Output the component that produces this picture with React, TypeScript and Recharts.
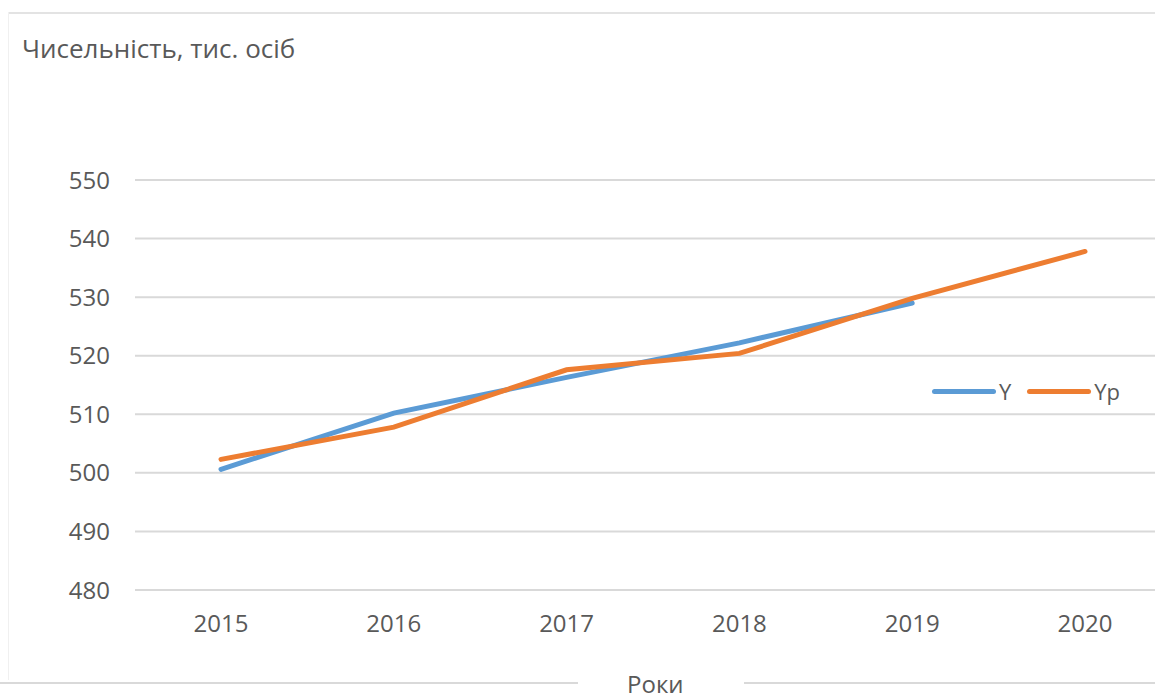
import { LineChart, Line, XAxis, YAxis, CartesianGrid } from 'recharts'

const years = ['2015', '2016', '2017', '2018', '2019', '2020']
const actual = [500.6, 510.2, 516.3, 522.2, 529.0, null]
const predicted = [502.3, 507.8, 517.6, 520.4, 529.8, 537.8]
const yTicks = [480, 490, 500, 510, 520, 530, 540, 550]

const font = '"Open Sans", sans-serif'
const textColor = '#595959'

const chartData = years.map((year, i) => ({
  year,
  Y: actual[i],
  Yp: predicted[i],
}))

function ChartLegend() {
  const items = [
    { name: 'Y', color: '#5B9BD5' },
    { name: 'Yp', color: '#ED7D31' },
  ]
  return (
    <div
      style={{
        position: 'absolute',
        left: 932,
        top: 376,
        display: 'flex',
        alignItems: 'center',
        gap: 16,
        fontSize: 22,
        color: textColor,
      }}
    >
      {items.map((it) => (
        <span key={it.name} style={{ display: 'flex', alignItems: 'center' }}>
          <span style={{ display: 'inline-block', width: 64, height: 5, borderRadius: 3, background: it.color }} />
          <span style={{ marginLeft: 3 }}>{it.name}</span>
        </span>
      ))}
    </div>
  )
}

export default function App() {
  return (
    <div
      style={{
        position: 'absolute',
        left: 0,
        top: 0,
        width: 1155,
        height: 700,
        overflow: 'hidden',
        background: '#fff',
        fontFamily: font,
      }}
    >
      <div style={{ position: 'absolute', left: 8, top: 12, right: 0, height: 2, background: '#e3e3e3' }} />
      <div style={{ position: 'absolute', left: 8, top: 12, width: 1, height: 668, background: '#f0f0f0' }} />
      <div style={{ position: 'absolute', left: 0, top: 682, width: 578, height: 2, background: '#d9d9d9' }} />
      <div style={{ position: 'absolute', left: 744, top: 682, right: 0, height: 2, background: '#d9d9d9' }} />
      <div style={{ position: 'absolute', left: 22, top: 30, fontSize: 26, color: textColor, whiteSpace: 'nowrap' }}>
        Чисельність, тис. осіб
      </div>
      <div style={{ position: 'absolute', left: 627, top: 671, fontSize: 24, lineHeight: '26px', color: textColor }}>
        Роки
      </div>
      <LineChart
        width={1175}
        height={700}
        data={chartData}
        margin={{ top: 180, right: 4, bottom: 80, left: 0 }}
        style={{ position: 'absolute', left: 0, top: 0 }}
      >
        <CartesianGrid horizontal vertical={false} stroke="#d9d9d9" strokeWidth={2} />
        <XAxis
          dataKey="year"
          height={30}
          axisLine={false}
          tickLine={false}
          tickSize={0}
          tickMargin={25}
          padding={{ left: 86, right: 86 }}
          tick={{ fontSize: 24, fill: textColor, fontFamily: font }}
          interval={0}
        />
        <YAxis
          width={135}
          domain={[480, 550]}
          ticks={yTicks}
          axisLine={false}
          tickLine={false}
          tickSize={0}
          tickMargin={25}
          tick={{ fontSize: 24, fill: textColor, fontFamily: font }}
        />
        <Line
          dataKey="Y"
          type="linear"
          stroke="#5B9BD5"
          strokeWidth={5}
          dot={false}
          strokeLinecap="round"
          isAnimationActive={false}
        />
        <Line
          dataKey="Yp"
          type="linear"
          stroke="#ED7D31"
          strokeWidth={5}
          dot={false}
          strokeLinecap="round"
          isAnimationActive={false}
        />
      </LineChart>
      <ChartLegend />
    </div>
  )
}
